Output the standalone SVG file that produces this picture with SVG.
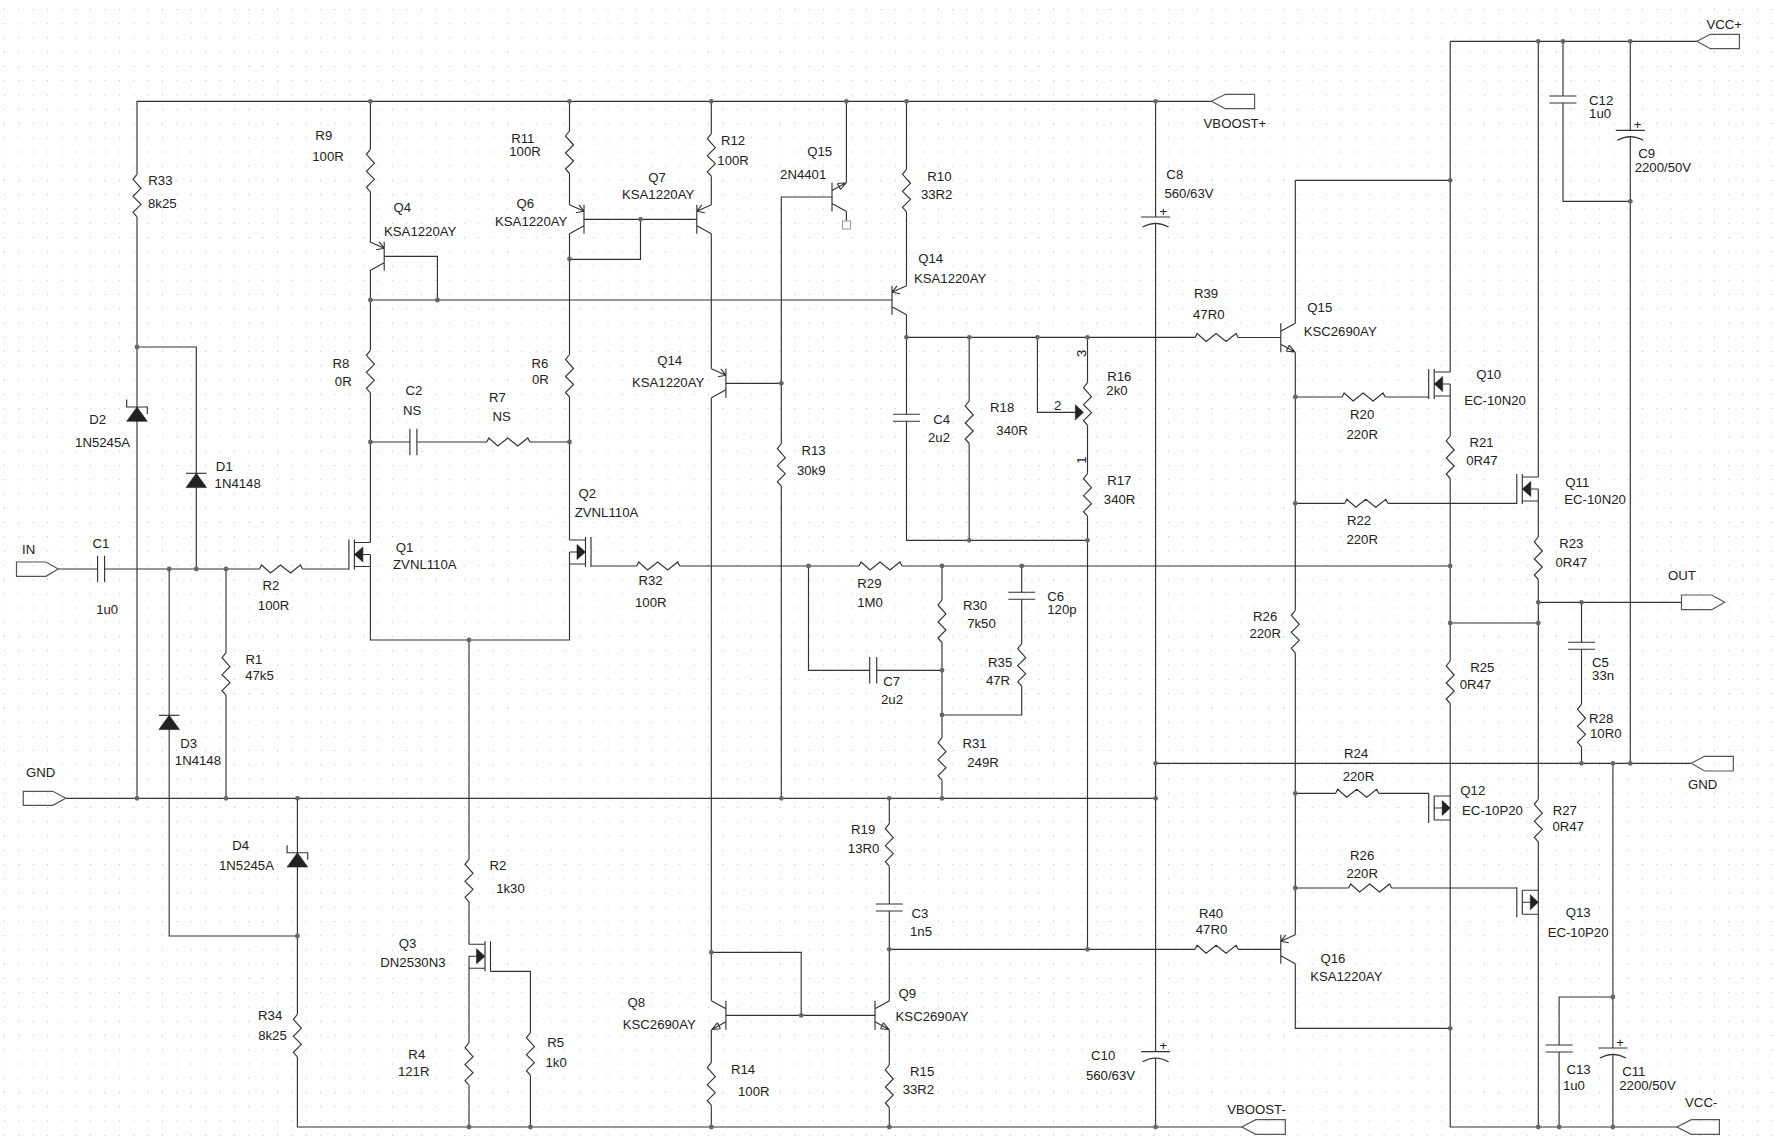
<svg xmlns="http://www.w3.org/2000/svg" width="1774" height="1147" viewBox="0 0 1774 1147">
<style>
text{font-family:"Liberation Sans",Arial,sans-serif;font-size:13.2px;fill:#222;text-anchor:middle;dominant-baseline:central}
.w,.s{fill:none;stroke:#333;stroke-width:1.15}
.f{fill:#222;stroke:#222;stroke-width:.6}
.j{fill:#666}
.p{fill:none;stroke:#555;stroke-width:1.2}
</style>
<defs>
<pattern id="grid" patternUnits="userSpaceOnUse" x="4" y="9" width="14.37" height="14.25"><rect width="1" height="1" fill="#bbb"/></pattern>
<path id="rv" class="s" transform="translate(0,1)" d="M0 0L-4 5L4 14L-4 22L4 30L-4 38L0 42.5"/>
<path id="rh" class="s" transform="translate(0,1)" d="M0 0L2-4L11 4L21-4L31 4L41-4L43 0"/>
<path id="cv" class="s" transform="translate(0,1)" d="M-13.5 0H13.5M-13.5 7H13.5"/>
<path id="ch" class="s" transform="translate(0,1)" d="M0-13.3V13.3M7-13.3V13.3"/>
<path id="pc" class="s" transform="translate(0,1)" d="M-14.5 0H14.5M-13 10Q0 2.6 13 10"/>
<g id="dio" transform="translate(0,1)"><path class="s" d="M-10.3 0H10.3"/><path class="f" d="M0 0L-10.3 14.3H10.3Z"/></g>
<g id="zen" transform="translate(0,1)"><path class="s" d="M-10.3-7.5V0H10.3V7"/><path class="f" d="M0 0L-10.3 14.3H10.3Z"/></g>
<g id="pnp" transform="translate(0,1)"><path class="s" d="M0-14.5V14.5M0-8L14.5-14.5M0 6.5L14.5 14.5M0-8L8-6.5M0-8L5-14.5"/></g>
<g id="npn" transform="translate(0,1)"><path class="s" d="M0-14.5V14.5M0-6.5L14.5-14.5M0 6.5L14.5 14.5M14 14.2L5.5 13.5M14 14.2L8.5 7.5M5.5 13.5L8.5 7.5"/></g>
<g id="nm" transform="translate(0,1)"><path class="s" d="M-5.5-15V15M0-15V15M0-12H16M0 12H16M16 0V12M8.5 0H16"/><path class="f" d="M0 0L8.5-7.5V7.5Z"/></g>
<g id="pm" transform="translate(0,1)"><path class="s" d="M-5.5-15V15M0-12V12M0-12H16M0 12H16M16-12V12M0 0H8"/><path class="f" d="M16 0L8-7.5V7.5Z"/></g>
</defs>
<rect width="1774" height="1147" fill="#fff"/>
<rect width="1774" height="1147" fill="url(#grid)"/>
<g id="connectors" transform="translate(0,1)">
<path class="w" d="M137 173.3V100.3H1211.4M137 216V797.3M137 346H196.3V568M58.2 568H97.6M104.5 568H259.5M302.3 568H349M169.2 568V935H297.4M226 568V651.7M226 694V797.3M65.8 797.3H1155.6M297.4 797.3V1013.3M297.4 1056V1126H1241.8"/>
<path class="w" d="M370.4 100.3V148.3M370.4 190.8V240.8M370.4 269.8V349.3M370.4 391.8V541.5M370.4 565.5V639H569.5V563M569.5 539V396M569.5 353.5V232.8M569.5 203.8V172.5M569.5 130V100.3M384.2 255.3H437.4V299M370.4 299H892.3M370.4 441H409.9M416.9 441H486.8M529.8 441H569.5M583.6 218.3H696.8M640.5 218.3V258.3H569.5"/>
<path class="w" d="M711.3 100.3V132.7M711.3 175.2V203.8M711.3 232.8V367.8M711.3 396.8V999.8M725.9 382.3H781.3M832.6 196H781.3V442.7M781.3 485.2V797.3M846.4 100.3V181.5M846.4 210.5V220M906.5 100.3V168.3M906.5 210.8V284.8M906.5 313.8V413.3M906.5 420.3V539.3H1087.5M906.5 336.3H1195.1M1238.1 336.5H1280.8M969.2 336.3V400M969.2 442.5V539.3M1087.5 336.3V381.7M1087.5 424.2V472.7M1087.5 515.2V948.3M1037.4 336.3V411.3H1075.3"/>
<path class="w" d="M591.3 565H636.7M679.7 565H859M902 565H1450.2M808.5 565V669.3H869.7M876.7 669.3H942M942 565V599M942 641.5V736.7M942 779.2V797.3M1021.7 565V591.3M1021.7 598.3V642.7M1021.7 685.2V714H942M889.3 797.3V822.7M889.3 865.2V903M889.3 910V999.8M889.3 1028.8V1064M889.3 1106.5V1126M711.3 1028.8V1061.7M711.3 1104.2V1126M711.3 951.3H801.2V1014.3M725.9 1014.3H875.5M889.3 948.3H1195.1M1238.1 948.3H1280.8M1155.6 100.3V216M1155.6 222.3V1050.7M1155.6 1057V1126M469 639V858.3M469 900.8V943.3M469 967.3V1041.7M469 1084.2V1126M490.5 970.3H530.4V1031.7M530.4 1074.2V1126"/>
<path class="w" d="M1295.3 179.3V322.2M1295.3 351.2V609.3M1295.3 651.8V933.8M1295.3 962.8V1027.3H1450.2M1295.3 179.3H1450.2M1450.2 40.3H1697M1450.2 40.3V371M1450.2 395V435M1450.2 477.5V660M1450.2 702.5V795M1450.2 819V1126H1676.9M1295.3 396H1342.1M1385.1 396H1428.7M1295.3 502.3H1344.8M1387.8 502.3H1516.8M1450.2 622H1538.3M1538.3 40.3V476M1538.3 500V536M1538.3 578.5V798.3M1538.3 840.8V889.3M1538.3 913.3V1126M1538.3 601.3H1681.5M1581.5 601.3V641.3M1581.5 648.3V703.3M1581.5 745.8V762.3M1155.6 762.3H1691.3M1630.3 40.3V129.3M1630.3 135.5V762.3M1563 40.3V95M1563 102V200.3H1630.3M1612.9 762.3V1047M1612.9 1053.3V1126M1612.9 996H1559.1V1044M1559.1 1051V1126M1295.3 792.3H1335.7M1378.7 792.3H1428.7M1295.3 887H1348.6M1391.6 887H1516.8"/>
</g>
<g id="junctions" class="j" transform="translate(0,1)">
<circle cx="370.4" cy="100.3" r="2.4"/><circle cx="569.5" cy="100.3" r="2.4"/><circle cx="711.3" cy="100.3" r="2.4"/><circle cx="846.4" cy="100.3" r="2.4"/><circle cx="906.5" cy="100.3" r="2.4"/><circle cx="1155.6" cy="100.3" r="2.4"/>
<circle cx="137" cy="346" r="2.4"/><circle cx="370.4" cy="299" r="2.4"/><circle cx="437.4" cy="299" r="2.4"/><circle cx="370.4" cy="441" r="2.4"/><circle cx="569.5" cy="441" r="2.4"/><circle cx="569.5" cy="258" r="2.4"/><circle cx="640.5" cy="218.3" r="2.4"/><circle cx="781.3" cy="382.3" r="2.4"/>
<circle cx="906.5" cy="336.3" r="2.4"/><circle cx="969.2" cy="336.3" r="2.4"/><circle cx="1037.4" cy="336.3" r="2.4"/><circle cx="1087.5" cy="336.3" r="2.4"/><circle cx="969.2" cy="539.3" r="2.4"/><circle cx="1087.5" cy="539.3" r="2.4"/>
<circle cx="169.2" cy="568" r="2.4"/><circle cx="196.3" cy="568" r="2.4"/><circle cx="226" cy="568" r="2.4"/><circle cx="469" cy="639" r="2.4"/>
<circle cx="137" cy="797.3" r="2.4"/><circle cx="226" cy="797.3" r="2.4"/><circle cx="297.4" cy="797.3" r="2.4"/><circle cx="781.3" cy="797.3" r="2.4"/><circle cx="889.3" cy="797.3" r="2.4"/><circle cx="942" cy="797.3" r="2.4"/><circle cx="1155.6" cy="797.3" r="2.4"/>
<circle cx="297.4" cy="935" r="2.4"/><circle cx="469" cy="1126" r="2.4"/><circle cx="530.4" cy="1126" r="2.4"/><circle cx="711.3" cy="1126" r="2.4"/><circle cx="889.3" cy="1126" r="2.4"/><circle cx="1155.6" cy="1126" r="2.4"/>
<circle cx="808.5" cy="565" r="2.4"/><circle cx="942" cy="565" r="2.4"/><circle cx="1021.7" cy="565" r="2.4"/><circle cx="1450.2" cy="565" r="2.4"/><circle cx="942" cy="669.3" r="2.4"/><circle cx="942" cy="714" r="2.4"/>
<circle cx="711.3" cy="951.3" r="2.4"/><circle cx="801.2" cy="1014.3" r="2.4"/><circle cx="889.3" cy="948.3" r="2.4"/><circle cx="1087.5" cy="948.3" r="2.4"/>
<circle cx="1155.6" cy="762.3" r="2.4"/><circle cx="1581.5" cy="762.3" r="2.4"/><circle cx="1612.9" cy="762.3" r="2.4"/><circle cx="1630.3" cy="762.3" r="2.4"/>
<circle cx="1450.2" cy="179.3" r="2.4"/><circle cx="1538.3" cy="40.3" r="2.4"/><circle cx="1563" cy="40.3" r="2.4"/><circle cx="1630.3" cy="40.3" r="2.4"/><circle cx="1630.3" cy="200.3" r="2.4"/>
<circle cx="1295.3" cy="396" r="2.4"/><circle cx="1295.3" cy="502.3" r="2.4"/><circle cx="1295.3" cy="792.3" r="2.4"/><circle cx="1295.3" cy="887" r="2.4"/>
<circle cx="1538.3" cy="601.3" r="2.4"/><circle cx="1581.5" cy="601.3" r="2.4"/><circle cx="1450.2" cy="622" r="2.4"/><circle cx="1538.3" cy="622" r="2.4"/>
<circle cx="1450.2" cy="1027.3" r="2.4"/><circle cx="1538.3" cy="1126" r="2.4"/><circle cx="1559.1" cy="1126" r="2.4"/><circle cx="1612.9" cy="1126" r="2.4"/><circle cx="1612.9" cy="996" r="2.4"/>
</g>
<g id="IN"><path class="p" transform="translate(0,1)" d="M58.2 568L45.9 575.3H16.5V561H45.9Z"/><text x="28.7" y="549">IN</text></g>
<g id="GND_left"><path class="p" transform="translate(0,1)" d="M65.8 797.3L52.8 804.3H23.3V790.3H52.8Z"/><text x="40.6" y="772">GND</text></g>
<g id="VBOOST_plus"><path class="p" transform="translate(0,1)" d="M1211.4 100.3L1225.4 93.3H1254.6V107.7H1225.4Z"/><text x="1234.9" y="123.3">VBOOST+</text></g>
<g id="VBOOST_minus"><path class="p" transform="translate(0,1)" d="M1241.8 1126L1255.7 1118.7H1285.3V1133.3H1255.7Z"/><text x="1256.5" y="1109">VBOOST-</text></g>
<g id="VCC_plus"><path class="p" transform="translate(0,1)" d="M1697 40.3L1710.3 33.3H1739.4V47.7H1710.3Z"/><text x="1724.3" y="24">VCC+</text></g>
<g id="VCC_minus"><path class="p" transform="translate(0,1)" d="M1676.9 1126L1691.3 1118.7H1719.4V1133.3H1691.3Z"/><text x="1701.2" y="1102.3">VCC-</text></g>
<g id="OUT"><path class="p" transform="translate(0,1)" d="M1724.7 601.3L1711.8 608.7H1681.5V594H1711.8Z"/><text x="1681.9" y="575">OUT</text></g>
<g id="GND_right"><path class="p" transform="translate(0,1)" d="M1691.3 762.3L1704.6 755.3H1733.3V770H1704.6Z"/><text x="1702.7" y="784.7">GND</text></g>
<g id="C1"><use href="#ch" x="97.6" y="568"/><text x="101" y="543">C1</text><text x="107.2" y="609">1u0</text></g>
<g id="D1"><use href="#dio" x="196.3" y="472.3"/><text x="224.3" y="466">D1</text><text x="237.7" y="483">1N4148</text></g>
<g id="D2"><use href="#zen" x="137" y="406"/><text x="97.6" y="419">D2</text><text x="102.6" y="442.3">1N5245A</text></g>
<g id="D3"><use href="#dio" x="169.2" y="714.3"/><text x="188.7" y="743">D3</text><text x="197.9" y="760">1N4148</text></g>
<g id="D4"><use href="#zen" x="297.4" y="851.7"/><text x="240.7" y="845">D4</text><text x="246.5" y="865.3">1N5245A</text></g>
<g id="R33"><use href="#rv" x="137" y="173.3"/><text x="160.4" y="180">R33</text><text x="162.3" y="203.3">8k25</text></g>
<g id="R1"><use href="#rv" x="226" y="651.7"/><text x="254" y="659.3">R1</text><text x="259.5" y="675.3">47k5</text></g>
<g id="R2_input"><use href="#rh" x="259.5" y="568"/><text x="271" y="585">R2</text><text x="273.6" y="605">100R</text></g>
<g id="R34"><use href="#rv" x="297.4" y="1013.3"/><text x="270.2" y="1015.3">R34</text><text x="272.5" y="1035">8k25</text></g>
<g id="R9"><use href="#rv" x="370.4" y="148.3"/><text x="323.8" y="135.3">R9</text><text x="328" y="156.3">100R</text></g>
<g id="Q4"><use href="#pnp" transform="translate(384.2,255.3) scale(-1,1)"/><text x="402.2" y="207">Q4</text><text x="420.2" y="231">KSA1220AY</text></g>
<g id="R8"><use href="#rv" x="370.4" y="349.3"/><text x="341" y="363">R8</text><text x="343.3" y="381">0R</text></g>
<g id="C2"><use href="#ch" x="409.9" y="441"/><text x="414" y="390">C2</text><text x="412.2" y="410">NS</text></g>
<g id="R7"><use href="#rh" x="486.8" y="441"/><text x="497.5" y="397.3">R7</text><text x="501.7" y="416">NS</text></g>
<g id="R11"><use href="#rv" x="569.5" y="130"/><text x="522.8" y="138.3">R11</text><text x="525" y="151">100R</text></g>
<g id="Q6"><use href="#pnp" transform="translate(584,218.3) scale(-1,1)"/><text x="525.4" y="203">Q6</text><text x="531.2" y="221.3">KSA1220AY</text></g>
<g id="R6"><use href="#rv" x="569.5" y="353.5"/><text x="540" y="363">R6</text><text x="540.4" y="379">0R</text></g>
<g id="Q1"><use href="#nm" x="354.4" y="553.5"/><text x="404.5" y="547">Q1</text><text x="424.8" y="564">ZVNL110A</text></g>
<g id="Q2"><use href="#nm" transform="translate(585.5,551) scale(-1,1)"/><text x="587.4" y="493">Q2</text><text x="606.5" y="512">ZVNL110A</text></g>
<g id="R2_tail"><use href="#rv" x="469" y="858.3"/><text x="497.9" y="865.3">R2</text><text x="510.5" y="888">1k30</text></g>
<g id="Q3"><use href="#nm" transform="translate(485,955.3) scale(-1,1)"/><text x="407.6" y="943">Q3</text><text x="412.9" y="962">DN2530N3</text></g>
<g id="R4"><use href="#rv" x="469" y="1041.7"/><text x="416.8" y="1054">R4</text><text x="413.7" y="1071.3">121R</text></g>
<g id="R5"><use href="#rv" x="530.4" y="1031.7"/><text x="555.7" y="1042.3">R5</text><text x="556.1" y="1062.3">1k0</text></g>
<g id="R12"><use href="#rv" x="711.3" y="132.7"/><text x="733.1" y="140">R12</text><text x="733.1" y="160">100R</text></g>
<g id="Q7"><use href="#pnp" x="696.8" y="218.3"/><text x="657" y="177.7">Q7</text><text x="658.1" y="194.3">KSA1220AY</text></g>
<g id="Q15_driver"><use href="#npn" transform="translate(832,198) scale(1,-1)"/><rect x="842.5" y="221" width="8" height="8" fill="none" stroke="#999"/><text x="819.6" y="151">Q15</text><text x="803.2" y="174.3">2N4401</text></g>
<g id="R10"><use href="#rv" x="906.5" y="168.3"/><text x="939.4" y="176">R10</text><text x="936.7" y="194.3">33R2</text></g>
<g id="C8"><use href="#pc" x="1155.6" y="216"/><text x="1163.3" y="211.7">+</text><text x="1174.8" y="174.3">C8</text><text x="1189" y="193">560/63V</text></g>
<g id="Q14_right"><use href="#pnp" x="892" y="299.3"/><text x="930.6" y="258.3">Q14</text><text x="950.1" y="278.3">KSA1220AY</text></g>
<g id="Q14_mid"><use href="#pnp" transform="translate(725.9,382.3) scale(-1,1)"/><text x="669.6" y="360">Q14</text><text x="668.1" y="382.7">KSA1220AY</text></g>
<g id="C4"><use href="#cv" x="906.5" y="413.3"/><text x="941.7" y="419">C4</text><text x="939" y="437.3">2u2</text></g>
<g id="R18"><use href="#rv" x="969.2" y="400"/><text x="1002.2" y="407">R18</text><text x="1012.1" y="430">340R</text></g>
<g id="R16"><use href="#rv" x="1087.5" y="381.7"/><path class="f" d="M1075.3 404.7V420L1083.5 412.3Z"/><text x="1119.3" y="376">R16</text><text x="1117" y="390">2k0</text><text x="1057.7" y="405.3">2</text><text transform="rotate(-90 1081.4 353.3)" x="1081.4" y="353.3">3</text><text transform="rotate(-90 1081.4 460)" x="1081.4" y="460">1</text></g>
<g id="R17"><use href="#rv" x="1087.5" y="472.7"/><text x="1119.3" y="480">R17</text><text x="1119.6" y="499.3">340R</text></g>
<g id="R13"><use href="#rv" x="781.3" y="442.7"/><text x="813.5" y="450">R13</text><text x="811.2" y="470">30k9</text></g>
<g id="R32"><use href="#rh" x="636.7" y="565"/><text x="650.5" y="580">R32</text><text x="650.8" y="602.3">100R</text></g>
<g id="R29"><use href="#rh" x="859" y="565"/><text x="869.4" y="583">R29</text><text x="870.1" y="602.3">1M0</text></g>
<g id="R30"><use href="#rv" x="942" y="599"/><text x="975" y="605">R30</text><text x="981.5" y="623">7k50</text></g>
<g id="C6"><use href="#cv" x="1021.7" y="591.3"/><text x="1055.7" y="596">C6</text><text x="1061.9" y="609.3">120p</text></g>
<g id="R35"><use href="#rv" x="1021.7" y="642.7"/><text x="1000.2" y="662">R35</text><text x="998" y="680">47R</text></g>
<g id="C7"><use href="#ch" x="869.7" y="669.3"/><text x="891.6" y="681.7">C7</text><text x="892" y="699">2u2</text></g>
<g id="R31"><use href="#rv" x="942" y="736.7"/><text x="974.6" y="743">R31</text><text x="983" y="762.3">249R</text></g>
<g id="R19"><use href="#rv" x="889.3" y="822.7"/><text x="863.2" y="829">R19</text><text x="863.6" y="848.3">13R0</text></g>
<g id="C3"><use href="#cv" x="889.3" y="903"/><text x="919.9" y="913">C3</text><text x="921" y="931.7">1n5</text></g>
<g id="Q8"><use href="#npn" transform="translate(725.9,1014.3) scale(-1,1)"/><text x="636.3" y="1002">Q8</text><text x="659.3" y="1024.3">KSC2690AY</text></g>
<g id="Q9"><use href="#npn" x="875" y="1014.3"/><text x="907.3" y="993">Q9</text><text x="932.1" y="1016">KSC2690AY</text></g>
<g id="R14"><use href="#rv" x="711.3" y="1061.7"/><text x="743.1" y="1069.3">R14</text><text x="753.8" y="1091">100R</text></g>
<g id="R15"><use href="#rv" x="889.3" y="1064"/><text x="922.2" y="1071.3">R15</text><text x="918.4" y="1089.3">33R2</text></g>
<g id="C10"><use href="#pc" x="1155.6" y="1050.7"/><text x="1163.3" y="1045">+</text><text x="1103.2" y="1055">C10</text><text x="1110.5" y="1075">560/63V</text></g>
<g id="R39"><use href="#rh" x="1195.1" y="336.5"/><text x="1206.1" y="293">R39</text><text x="1208.8" y="314.3">47R0</text></g>
<g id="Q15_output"><use href="#npn" x="1280.8" y="336.7"/><text x="1319.8" y="307">Q15</text><text x="1340.2" y="331">KSC2690AY</text></g>
<g id="C12"><use href="#cv" x="1563" y="95"/><text x="1601.2" y="100">C12</text><text x="1600.1" y="113.3">1u0</text></g>
<g id="C9"><use href="#pc" x="1630.3" y="129.3"/><text x="1637.6" y="124.7">+</text><text x="1646.6" y="153.7">C9</text><text x="1662.9" y="167">2200/50V</text></g>
<g id="Q10"><use href="#nm" x="1434.2" y="383"/><text x="1488.7" y="374">Q10</text><text x="1495.1" y="400">EC-10N20</text></g>
<g id="R20"><use href="#rh" x="1342.1" y="396"/><text x="1362.2" y="414">R20</text><text x="1362.2" y="434">220R</text></g>
<g id="R21"><use href="#rv" x="1450.2" y="435"/><text x="1481.5" y="442">R21</text><text x="1481.9" y="460">0R47</text></g>
<g id="Q11"><use href="#nm" x="1522.3" y="488"/><text x="1577.3" y="482">Q11</text><text x="1595.1" y="499">EC-10N20</text></g>
<g id="R22"><use href="#rh" x="1344.8" y="502.3"/><text x="1359.1" y="520">R22</text><text x="1362.2" y="539">220R</text></g>
<g id="R23"><use href="#rv" x="1538.3" y="536"/><text x="1571.3" y="543">R23</text><text x="1571.3" y="562">0R47</text></g>
<g id="R26_mid"><use href="#rv" x="1295.3" y="609.3"/><text x="1265.2" y="616.3">R26</text><text x="1265.2" y="633.3">220R</text></g>
<g id="C5"><use href="#cv" x="1581.5" y="641.3"/><text x="1600.4" y="662.3">C5</text><text x="1603.1" y="675.7">33n</text></g>
<g id="R25"><use href="#rv" x="1450.2" y="660"/><text x="1482.3" y="667">R25</text><text x="1475.4" y="684.7">0R47</text></g>
<g id="R28"><use href="#rv" x="1581.5" y="703.3"/><text x="1601.2" y="718">R28</text><text x="1605.8" y="733.3">10R0</text></g>
<g id="R24"><use href="#rh" x="1335.7" y="792.3"/><text x="1356.2" y="753.3">R24</text><text x="1358.4" y="776">220R</text></g>
<g id="Q12"><use href="#pm" x="1434.2" y="807"/><text x="1472.8" y="790">Q12</text><text x="1492.5" y="810">EC-10P20</text></g>
<g id="R27"><use href="#rv" x="1538.3" y="798.3"/><text x="1564.8" y="810">R27</text><text x="1568.2" y="826">0R47</text></g>
<g id="R26_low"><use href="#rh" x="1348.6" y="887"/><text x="1362.2" y="855.3">R26</text><text x="1362.2" y="873.3">220R</text></g>
<g id="Q13"><use href="#pm" x="1522.3" y="901.3"/><text x="1578.1" y="912">Q13</text><text x="1578.1" y="932">EC-10P20</text></g>
<g id="R40"><use href="#rh" x="1195.1" y="948.3"/><text x="1211.1" y="913">R40</text><text x="1211.5" y="929.3">47R0</text></g>
<g id="Q16"><use href="#pnp" x="1280.8" y="948.3"/><text x="1333" y="958">Q16</text><text x="1346.3" y="976.3">KSA1220AY</text></g>
<g id="C13"><use href="#cv" x="1559.1" y="1044"/><text x="1578.5" y="1069">C13</text><text x="1573.9" y="1085">1u0</text></g>
<g id="C11"><use href="#pc" x="1612.9" y="1047"/><text x="1620" y="1042.7">+</text><text x="1633.8" y="1071">C11</text><text x="1647.5" y="1085">2200/50V</text></g>
</svg>
